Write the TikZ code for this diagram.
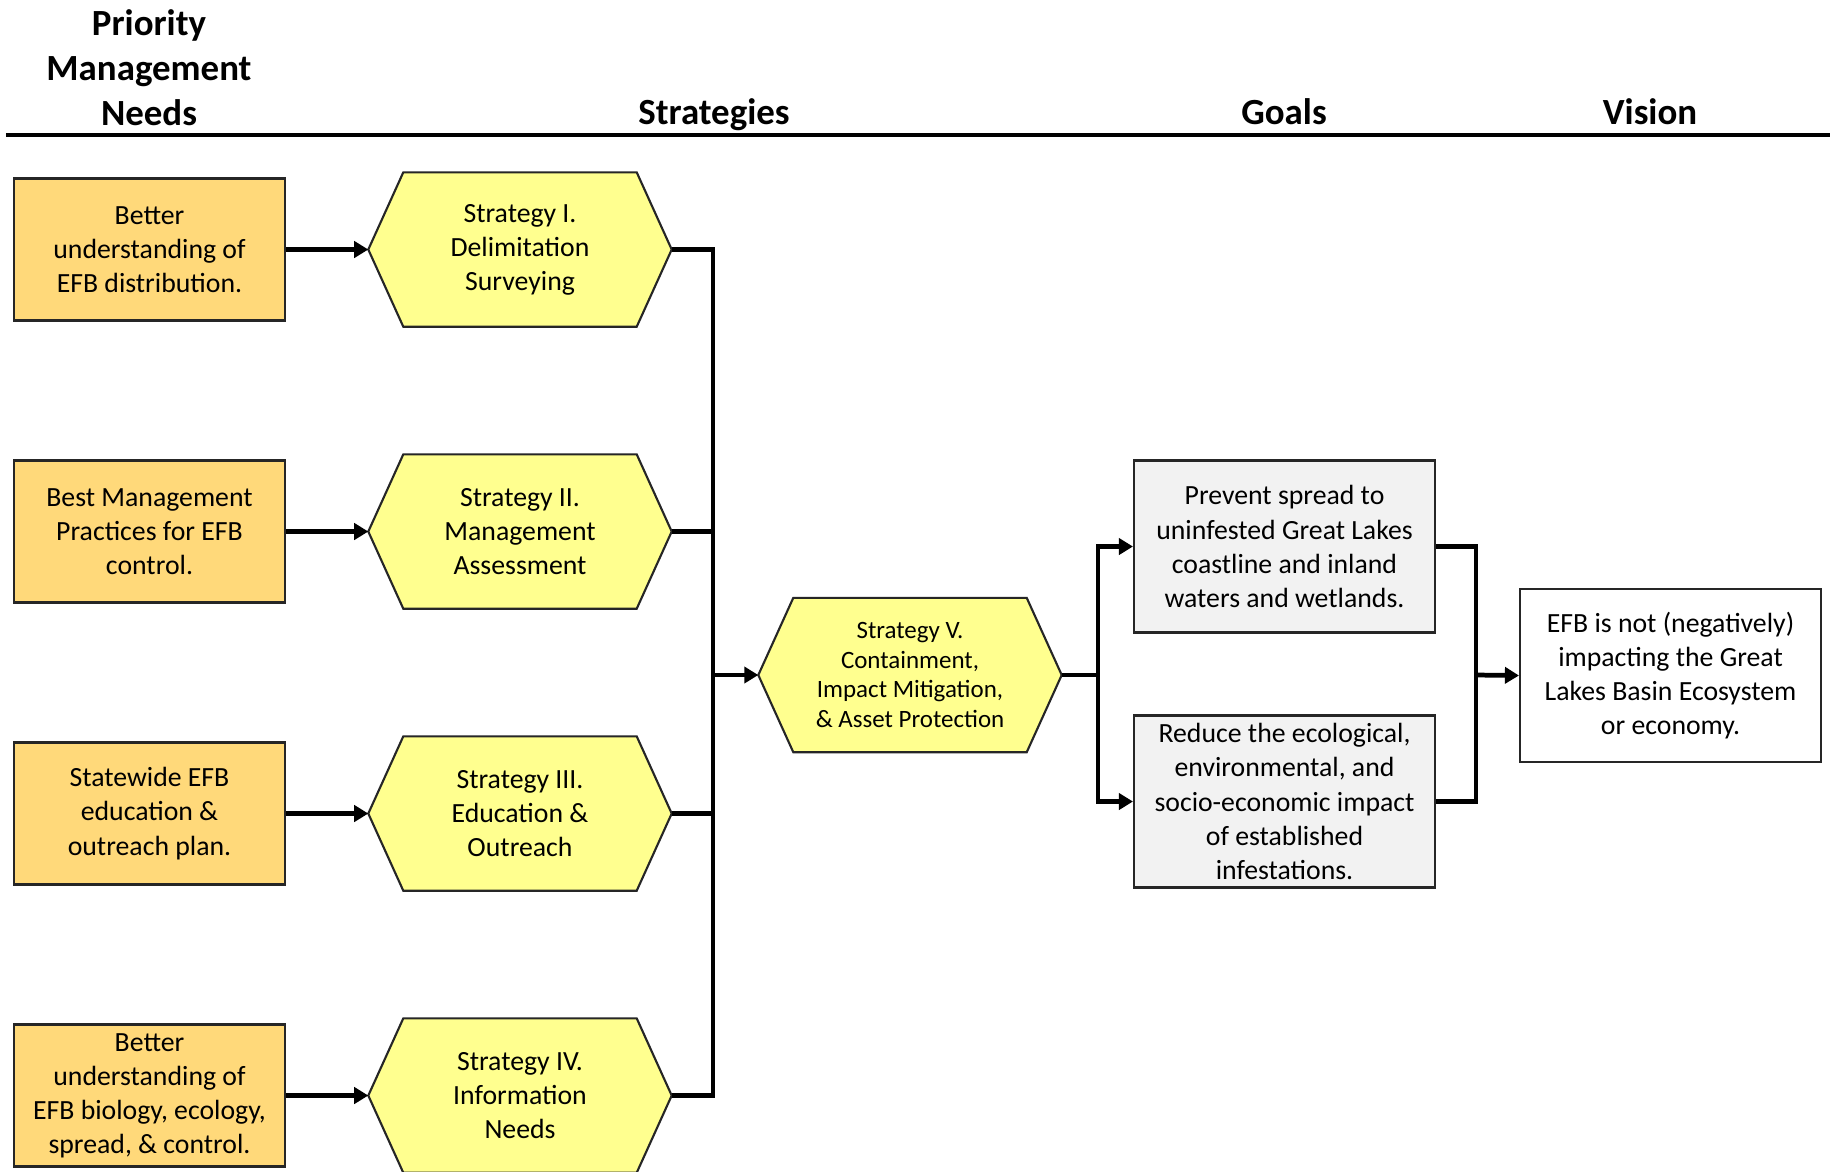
\documentclass[tikz,border=0pt]{standalone}
\usepackage{fontspec}
\setmainfont{Carlito}
\usetikzlibrary{arrows.meta,backgrounds}

\definecolor{needfill}{RGB}{255,217,122}
\definecolor{hexfill}{RGB}{255,255,143}
\definecolor{goalfill}{RGB}{242,242,242}

\begin{document}
\begin{tikzpicture}[
    needbox/.style={draw=black!85, line width=0.6pt, fill=needfill, minimum width=2.71cm, minimum height=1.42cm,
      align=center, inner sep=0pt, font=\fontsize{7.9}{9.7}\selectfont},
    stratbox/.style={minimum width=3.02cm, minimum height=1.53cm, align=center, inner sep=0pt,
      font=\fontsize{7.9}{9.7}\selectfont},
    goalbox/.style={needbox, fill=goalfill, minimum width=3.01cm, minimum height=1.72cm},
    head/.style={align=center, inner sep=0pt, font=\fontsize{10.5}{12.8}\selectfont\bfseries},
    link/.style={line width=1.35pt},
    arr/.style={link, -{Triangle[length=4pt,width=4.6pt]}}
  ]
  \begin{scope}[on background layer]
    \fill[white] (0,0) rectangle (18.37,-11.71);
  \end{scope}
  \useasboundingbox (0,0) rectangle (18.37,-11.71);

  % column headings
  \node[head] (hneeds) at (1.49,-0.68) {Priority\\Management\\Needs};
  \node[head, anchor=base] (hstrat) at (7.14,-1.24) {Strategies};
  \node[head, anchor=base] (hgoals) at (12.84,-1.24) {Goals};
  \node[head, anchor=base] (hvision) at (16.50,-1.24) {Vision};
  \draw[line width=0.9pt] (0.06,-1.35) -- (18.30,-1.35);

  % needs and strategies
  \foreach \i/\y/\need/\strat in {
      1/-2.495/{Better\\understanding of\\EFB distribution.}/{Strategy I.\\Delimitation\\Surveying},
      2/-5.315/{Best Management\\Practices for EFB\\control.}/{Strategy II.\\Management\\Assessment},
      3/-8.135/{Statewide EFB\\education \&\\outreach plan.}/{Strategy III.\\Education \&\\Outreach},
      4/-10.955/{Better\\understanding of\\EFB biology, ecology,\\spread, \& control.}/{Strategy IV.\\Information\\Needs}} {
    \node[needbox] (n\i) at (1.495,\y) {\need};
    \node[stratbox] (s\i) at (5.20,\y) {\strat};
    \draw[arr] (n\i.east) -- (s\i.west);
  }

  \node[stratbox, font=\fontsize{7.1}{8.4}\selectfont] (s5) at (9.10,-6.75)
    {Strategy V.\\Containment,\\Impact Mitigation,\\\& Asset Protection};

  % goals and vision
  \node[goalbox] (g1) at (12.845,-5.465) {Prevent spread to\\uninfested Great Lakes\\coastline and inland\\waters and wetlands.};
  \node[goalbox] (g2) at (12.845,-8.015) {Reduce the ecological,\\environmental, and\\socio-economic impact\\of established\\infestations.};
  \node[goalbox, fill=white, minimum height=1.73cm] (v) at (16.705,-6.755) {EFB is not (negatively)\\impacting the Great\\Lakes Basin Ecosystem\\or economy.};

  % hexagons behind the strategy texts
  \begin{scope}[on background layer]
    \foreach \s in {s1,s2,s3,s4,s5}
      \filldraw[draw=black!85, line width=0.6pt, fill=hexfill]
        (\s.west) -- ([xshift=0.35cm]\s.north west) -- ([xshift=-0.35cm]\s.north east)
        -- (\s.east) -- ([xshift=-0.35cm]\s.south east) -- ([xshift=0.35cm]\s.south west) -- cycle;
  \end{scope}

  % connectors
  \coordinate (bus) at (7.13,-6.75);
  \coordinate (split) at (10.98,-6.75);
  \coordinate (join) at (14.76,-6.75);
  \foreach \i in {1,...,4}
    \draw[link] (s\i.east) -| (bus);
  \draw[arr] (bus) -- (s5.west);
  \draw[link] (s5.east) -- (split);
  \draw[arr] (split) |- (g1.west);
  \draw[arr] (split) |- (g2.west);
  \draw[link] (g1.east) -| (join);
  \draw[link] (g2.east) -| (join);
  \draw[arr] (join) -- (v.west);
\end{tikzpicture}
\end{document}
